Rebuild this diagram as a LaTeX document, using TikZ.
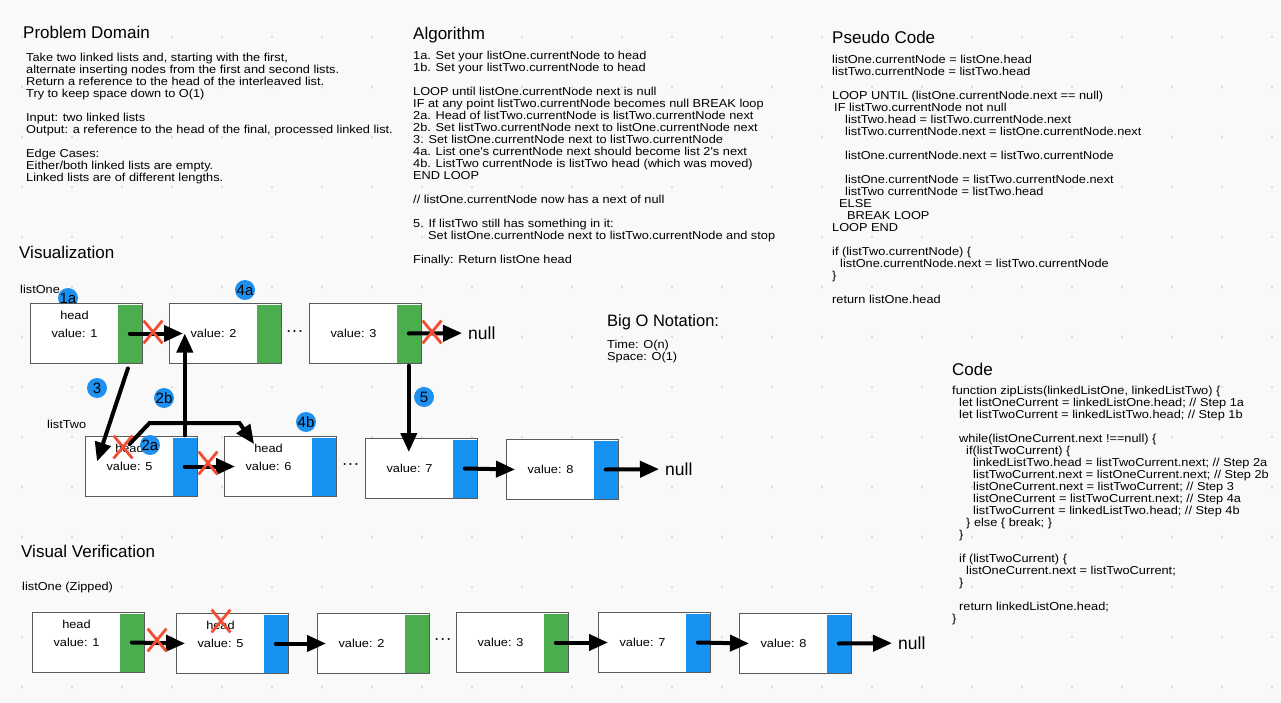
\documentclass[tikz,border=0pt]{standalone}
\usepackage{fontspec}
\setmainfont{Liberation Sans}
\newfontfamily\diagfont{Liberation Sans}[FakeStretch=1.11]
\usetikzlibrary{arrows.meta,calc,shapes.misc}

\definecolor{bgcol}{RGB}{249,249,249}
\definecolor{dotcol}{RGB}{212,212,212}
\definecolor{boxcol}{RGB}{90,90,90}
\definecolor{onecol}{RGB}{74,174,79}
\definecolor{twocol}{RGB}{22,146,240}
\definecolor{stepcol}{RGB}{30,144,240}
\definecolor{crosscol}{RGB}{242,78,52}

\def \headGap {18}

% one list node: name, top-left corner, strip colour, value, text above the value
\newcommand\listNode[5]{
  \node[lbox] (#1) at (#2) {};
  \node[lstrip, fill=#3] (#1p) at ($(#1.east)+(-1,0)$) {};
  \node[ltext] (#1v) at ($(#1.center)+(-12,0)$) {value: #4};
  \node[ltext] (#1h) at ($(#1v)+(0,-\headGap)$) {#5};
}
\newcommand\ind[1]{\hspace*{#1pt}}

\begin{document}
\begin{tikzpicture}[x=1pt,y=-1pt,
    title/.style={font=\fontsize{17}{20}\selectfont, anchor=west, inner sep=0},
    body/.style={font=\diagfont\fontsize{11.5}{12}\selectfont, align=left, anchor=north west, inner sep=0},
    ltext/.style={font=\diagfont\fontsize{11.5}{12}\selectfont, inner sep=0},
    lbox/.style={draw=boxcol, fill=white, line width=1pt, minimum width=112pt, minimum height=60pt, anchor=north west, inner sep=0},
    lstrip/.style={minimum width=24pt, minimum height=58pt, anchor=east, inner sep=0},
    nulltext/.style={font=\fontsize{17.5}{20}\selectfont, anchor=west, inner sep=6pt},
    gap/.style={font=\bfseries\fontsize{12}{12}\selectfont, inner sep=0},
    badge/.style={circle, fill=stepcol, minimum size=20pt, inner sep=0, font=\fontsize{15}{15}\selectfont},
    xmark/.style={cross out, draw=crosscol, line width=2.8pt, minimum width=16pt, minimum height=20pt, inner sep=0},
    ptr/.style={line width=4pt, line cap=round, -{Triangle[length=19pt,width=16pt]}}]

\useasboundingbox (0,0) rectangle (1281,703);
\fill[bgcol] (0,0) rectangle (1281,703);
\foreach \i in {22,72,...,1272}
  \foreach \j in {37,87,...,687}
    \fill[dotcol] (\i,\j) circle (1.2pt);

% text blocks
\node[title] (pdT) at (23,32) {Problem Domain};
\node[body] (pd) at (26,52.5) {Take two linked lists and, starting with the first,\\
alternate inserting nodes from the first and second lists.\\
Return a reference to the head of the interleaved list.\\
Try to keep space down to O(1)\\[12pt]
Input: two linked lists\\
Output: a reference to the head of the final, processed linked list.\\[12pt]
Edge Cases:\\
Either/both linked lists are empty.\\
Linked lists are of different lengths.};

\node[title] (algT) at (413,35) {Algorithm};
\node[body] (alg) at (413,50.5) {1a. Set your listOne.currentNode to head\\
1b. Set your listTwo.currentNode to head\\[12pt]
LOOP until listOne.currentNode next is null\\
IF at any point listTwo.currentNode becomes null BREAK loop\\
2a. Head of listTwo.currentNode is listTwo.currentNode next\\
2b. Set listTwo.currentNode next to listOne.currentNode next\\
3. Set listOne.currentNode next to listTwo.currentNode\\
4a. List one's currentNode next should become list 2's next\\
4b. ListTwo currentNode is listTwo head (which was moved)\\
END LOOP\\[12pt]
// listOne.currentNode now has a next of null\\[12pt]
5. If listTwo still has something in it:\\
\ind{15}Set listOne.currentNode next to listTwo.currentNode and stop\\[12pt]
Finally: Return listOne head};

\node[title] (psT) at (832,37) {Pseudo Code};
\node[body] (ps) at (832,55) {listOne.currentNode = listOne.head\\
listTwo.currentNode = listTwo.head\\[12pt]
LOOP UNTIL (listOne.currentNode.next == null)\\
\ind{2}IF listTwo.currentNode not null\\
\ind{13}listTwo.head = listTwo.currentNode.next\\
\ind{13}listTwo.currentNode.next = listOne.currentNode.next\\[12pt]
\ind{13}listOne.currentNode.next = listTwo.currentNode\\[12pt]
\ind{13}listOne.currentNode = listTwo.currentNode.next\\
\ind{13}listTwo currentNode = listTwo.head\\
\ind{7}ELSE\\
\ind{15}BREAK LOOP\\
LOOP END\\[12pt]
if (listTwo.currentNode) \{\\
\ind{8}listOne.currentNode.next = listTwo.currentNode\\
\}\\[12pt]
return listOne.head};

\node[title] (codeT) at (952,369) {Code};
\node[body] (code) at (952,385.5) {function zipLists(linkedListOne, linkedListTwo) \{\\
\ind{7}let listOneCurrent = linkedListOne.head; // Step 1a\\
\ind{7}let listTwoCurrent = linkedListTwo.head; // Step 1b\\[12pt]
\ind{7}while(listOneCurrent.next !==null) \{\\
\ind{14}if(listTwoCurrent) \{\\
\ind{21}linkedListTwo.head = listTwoCurrent.next; // Step 2a\\
\ind{21}listTwoCurrent.next = listOneCurrent.next; // Step 2b\\
\ind{21}listOneCurrent.next = listTwoCurrent; // Step 3\\
\ind{21}listOneCurrent = listTwoCurrent.next; // Step 4a\\
\ind{21}listTwoCurrent = linkedListTwo.head; // Step 4b\\
\ind{14}\} else \{ break; \}\\
\ind{7}\}\\[12pt]
\ind{7}if (listTwoCurrent) \{\\
\ind{14}listOneCurrent.next = listTwoCurrent;\\
\ind{7}\}\\[12pt]
\ind{7}return linkedListOne.head;\\
\}};

\node[title, font=\fontsize{16.5}{20}\selectfont] (boT) at (607,322) {Big O Notation:};
\node[body] (bo) at (607,340) {Time: O(n)\\Space: O(1)};

% visualization
\node[title] (visT) at (19,252) {Visualization};
\node[ltext, anchor=west] (oneL) at (20,289) {listOne};
\node[ltext, anchor=west] (twoL) at (47,424) {listTwo};
\node[badge] (s1a) at (68,298) {1a};

\listNode{o1}{30,303}{onecol}{1}{head}
\listNode{o2}{169,303}{onecol}{2}{}
\listNode{o3}{309,303}{onecol}{3}{}
\listNode{t5}{85,436}{twocol}{5}{head}
\listNode{t6}{224,436}{twocol}{6}{head}
\listNode{t7}{365,438}{twocol}{7}{}
\listNode{t8}{506,439}{twocol}{8}{}
\node[gap] (g1) at (295,333) {·\,·\,·};
\node[gap] (g2) at (351,466) {·\,·\,·};
\node[nulltext] (n1) at (462,333) {null};
\node[nulltext] (n2) at (659,469) {null};

\draw[ptr] (o1p.center) -- ($(o2.west)+(14,0)$);
\draw[ptr] (o3p.center) -- (n1);
\draw[ptr, shorten <=6pt] (o1p.south) -- ($(t5.west)+(12,-5)$);
\draw[ptr, shorten <=2pt] (t5p.north) -- (t5p.north |- o2.west);
\draw[ptr] (t5p.center) -- ($(t6.west)+(11,0)$);
\draw[ptr] (t5h.north) -- ++(20,-21) -- ++(90,0) -- (t6h.north west);
\draw[ptr, shorten <=3pt] (o3p.south) -- ($(o3p.south |- t7.north)+(0,14)$);
\draw[ptr] (t7p.center) -- ($(t8.west)+(9,0)$);
\draw[ptr] (t8p.center) -- (n2);

\node[xmark] (x1) at (153,332) {};
\node[xmark] (x2) at (432,332) {};
\node[xmark] (x3) at (123,447) {};
\node[xmark] (x4) at (208,463) {};

\node[badge] (s4a) at (245,290) {4a};
\node[badge] (s3) at (97,388) {3};
\node[badge] (s2b) at (164,398) {2b};
\node[badge] (s5) at (424,397) {5};
\node[badge] (s4b) at (306,422) {4b};
\node[badge] (s2a) at (150,445) {2a};

% visual verification
\node[title] (verT) at (21,551) {Visual Verification};
\node[ltext, anchor=west] (zipL) at (22,588) {listOne (Zipped)};

\listNode{z1}{32,612}{onecol}{1}{head}
\listNode{z5}{176,613}{twocol}{5}{head}
\listNode{z2}{317,613}{onecol}{2}{}
\listNode{z3}{456,612}{onecol}{3}{}
\listNode{z7}{598,612}{twocol}{7}{}
\listNode{z8}{739,613}{twocol}{8}{}
\node[gap] (g3) at (443,641) {·\,·\,·};
\node[nulltext] (n3) at (892,643) {null};

\draw[ptr] (z1p.center) -- ($(z5.west)+(9,0)$);
\draw[ptr] (z5p.center) -- ($(z2.west)+(9,0)$);
\draw[ptr] (z3p.center) -- ($(z7.west)+(10,0)$);
\draw[ptr] (z7p.center) -- ($(z8.west)+(10,0)$);
\draw[ptr] (z8p.center) -- (n3);

\node[xmark] (x5) at (157,640) {};
\node[xmark] (x6) at (221,621) {};
\end{tikzpicture}
\end{document}
